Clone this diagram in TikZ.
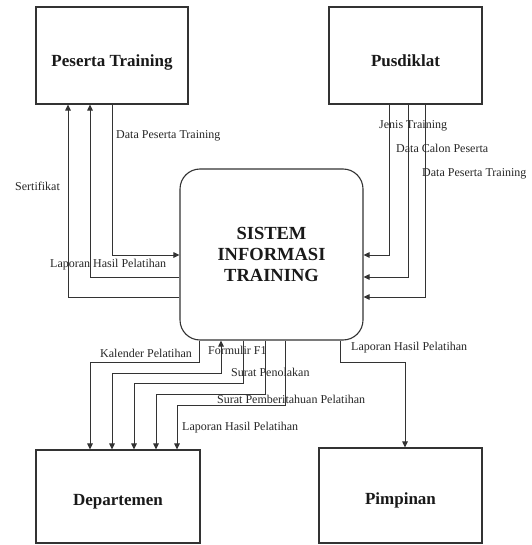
\documentclass[tikz,border=0pt]{standalone}
\usepackage{fontspec}
\setmainfont{Liberation Serif}
\usetikzlibrary{arrows.meta}
\tikzset{
  ent/.style={draw=black!80, line width=1.1pt, rectangle, minimum width=#1, inner sep=0pt},
  ttl/.style={font=\fontsize{17}{20}\selectfont\bfseries, text=black!90, inner sep=0pt},
  lbl/.style={font=\fontsize{12}{14}\selectfont, text=black!85, inner sep=0pt, anchor=west},
  flow/.style={draw=black!80, line width=1pt, -{Triangle[length=6pt,width=5.5pt]}},
  flowb/.style={draw=black!80, line width=1pt, {Triangle[length=6pt,width=5.5pt]}-{Triangle[length=6pt,width=5.5pt]}}
}
\begin{document}
\begin{tikzpicture}[x=1pt,y=-1pt]
\useasboundingbox (0,0) rectangle (531,545);
% entities
\node[ent=152pt, minimum height=97pt] (pt) at (112,55.5) {};
\node[ttl, yshift=-7pt] (ptt) at (pt.center) {Peserta Training};
\node[ent=153pt, minimum height=97pt] (pus) at (405.5,55.5) {};
\node[ttl, yshift=-5pt] (pust) at (pus.center) {Pusdiklat};
\node[ent=164pt, minimum height=93pt] (dep) at (118,496.5) {};
\node[ttl, yshift=-5pt] (dept) at (dep.center) {Departemen};
\node[ent=163pt, minimum height=95pt] (pim) at (400.5,495.5) {};
\node[ttl, yshift=-4.5pt] (pimt) at (pim.center) {Pimpinan};
% process
\node[draw=black!80, line width=1.1pt, rounded corners=20pt, minimum width=183pt, minimum height=171pt,
      align=center, font=\fontsize{18.5}{21}\selectfont\bfseries, text=black!90] (sis) at (271.5,254.5)
      {SISTEM\\INFORMASI\\TRAINING};
% left flows
\draw[flow] (sis.west |- 0,297) -| (pt.south -| 68,0);
\draw[flow] (sis.west |- 0,277) -| (pt.south -| 90,0);
\draw[flow] (pt.south -| 112,0) |- (sis.west |- 0,255);
% right flows
\draw[flow] (pus.south -| 389,0) |- (sis.east |- 0,255);
\draw[flow] (pus.south -| 408,0) |- (sis.east |- 0,277);
\draw[flow] (pus.south -| 425,0) |- (sis.east |- 0,297);
% bottom flows
\draw[flow] (sis.south -| 199,0) -- (199,362) -| (dep.north -| 90,0);
\draw[flowb] (dep.north -| 112,0) |- (221,373) -- (sis.south -| 221,0);
\draw[flow] (sis.south -| 243,0) -- (243,383) -| (dep.north -| 134,0);
\draw[flow] (sis.south -| 265,0) -- (265,394) -| (dep.north -| 156,0);
\draw[flow] (sis.south -| 285,0) -- (285,405) -| (dep.north -| 177,0);
\draw[flow] (sis.south -| 340,0) -- (340,362) -| (pim.north -| 405,0);
% labels
\node[lbl] (l1) at (116,136) {Data Peserta Training};
\node[lbl] (l2) at (15,186) {Sertifikat};
\node[lbl] (l3) at (50,265) {Laporan Hasil Pelatihan};
\node[lbl] (l4) at (379,126) {Jenis Training};
\node[lbl] (l5) at (396,148) {Data Calon Peserta};
\node[lbl] (l6) at (422,174) {Data Peserta Training};
\node[lbl] (l7) at (100,353) {Kalender Pelatihan};
\node[lbl] (l8) at (208,350) {Formulir F1};
\node[lbl] (l9) at (231,372) {Surat Penolakan};
\node[lbl] (l10) at (217,399) {Surat Pemberitahuan Pelatihan};
\node[lbl] (l11) at (182,428) {Laporan Hasil Pelatihan};
\node[lbl] (l12) at (351,348) {Laporan Hasil Pelatihan};
\end{tikzpicture}
\end{document}
